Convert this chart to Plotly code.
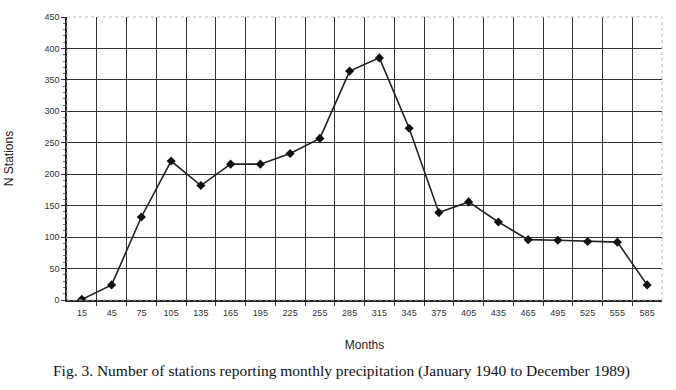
import plotly.graph_objects as go

months = [15, 45, 75, 105, 135, 165, 195, 225, 255, 285, 315, 345, 375, 405, 435, 465, 495, 525, 555, 585]
stations = [1, 24, 132, 221, 182, 216, 216, 233, 257, 364, 385, 273, 139, 156, 124, 96, 95, 93, 92, 24]
x_tick_labels = [str(m) for m in months]
y_ticks = [0, 50, 100, 150, 200, 250, 300, 350, 400, 450]

fig = go.Figure()
fig.add_trace(go.Scatter(
    x=months, y=stations, mode="lines+markers",
    line=dict(color="#222222", width=1.6),
    marker=dict(symbol="diamond", size=7, color="#111111"),
    showlegend=False,
))

fig.update_layout(
    width=676, height=390,
    margin=dict(l=67, r=14, t=17, b=90),
    paper_bgcolor="white", plot_bgcolor="white",
    font=dict(family="Liberation Sans, Arial", color="#333333", size=9),
    xaxis=dict(
        range=[0, 600], tickvals=months, ticktext=x_tick_labels,
        showgrid=False, zeroline=False, ticks="", ticklen=0,
        showline=True, linecolor="#222222", linewidth=1.5,
        tickfont=dict(size=9, color="#333333"),
        ticklabelstandoff=3,
        minor=dict(tickvals=list(range(30, 600, 30)), showgrid=True,
                   gridcolor="#333333", gridwidth=1.4, ticks="outside",
                   ticklen=4, tickcolor="#333333"),
        title=dict(text="Months", font=dict(size=12, color="#222222"), standoff=24),
        automargin=False,
    ),
    yaxis=dict(
        range=[0, 450], tickvals=y_ticks,
        showgrid=True, gridcolor="#333333", gridwidth=1.4,
        zeroline=False, ticks="outside", ticklen=4, tickcolor="#333333",
        showline=True, linecolor="#222222", linewidth=1.5,
        tickfont=dict(size=9, color="#333333"),
        minor=dict(dtick=10, ticks="outside", ticklen=2, tickcolor="#777777", showgrid=False),
        title=dict(text="N Stations", font=dict(size=12, color="#222222"), standoff=28),
        automargin=False,
    ),
    shapes=[dict(type="rect", xref="paper", yref="paper", x0=0, x1=1, y0=0, y1=1,
                 line=dict(color="#bbbbbb", width=1, dash="dot"))],
    annotations=[dict(
        text="Fig. 3. Number of stations reporting monthly precipitation (January 1940 to December 1989)",
        xref="paper", yref="paper", x=0.462, y=-0.25, xanchor="center", yanchor="middle",
        showarrow=False, font=dict(family="Liberation Serif, Times New Roman", size=15.5, color="#111111"),
    )],
)

fig.write_html("out.html", post_script="document.body.style.margin='0';",
               config={"displayModeBar": False})
